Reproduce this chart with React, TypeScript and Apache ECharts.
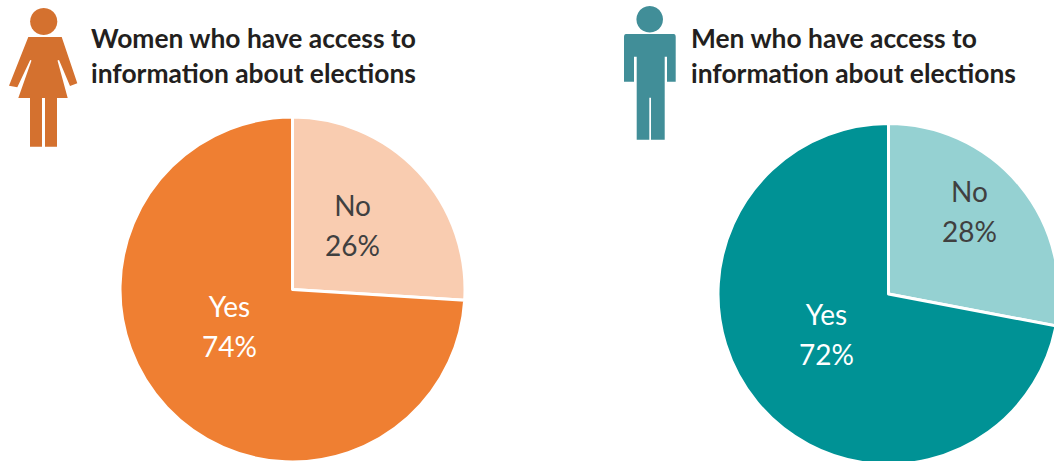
import React, { useEffect, useRef } from "react";
import * as echarts from "echarts";

const categories = ["No", "Yes"];
const womenValues = [26, 74];
const menValues = [28, 72];
const womenTitle = "Women who have access to\ninformation about elections";
const menTitle = "Men who have access to\ninformation about elections";

const womanIcon =
  "M28.3 37 L61.7 37 L77.3 83.3 L70 86 L59 60 L57.5 60.5 L67.7 98 L57 98 L57 146.7 L45 146.7 L45 98 L42 98 L42 146.7 L30 146.7 L30 98 L18.3 98 L31.5 60.5 L30.2 60 L17.3 87.3 L9 85.7 Z";
const manIcon =
  "M626 34 L673.7 34 Q675.7 34 675.7 37 L675.7 81.7 L667 81.7 L667 56.7 L664.7 56.7 L664.7 139.7 L651 139.7 L651 97.7 L649.3 97.7 L649.3 139.7 L636.7 139.7 L636.7 56.7 L634 56.7 L634 81.7 L624 81.7 L624 37 Q624 34 626 34 Z";

echarts.graphic.registerShape("womanIcon", echarts.graphic.extendPath(womanIcon, {}) as any);
echarts.graphic.registerShape("manIcon", echarts.graphic.extendPath(manIcon, {}) as any);

const FONT = "Lato";

function pieSeries(
  values: number[],
  center: number[],
  radius: number,
  colors: string[],
  offsets: number[][]
) {
  return {
    type: "pie",
    center,
    radius,
    startAngle: 90,
    clockwise: true,
    silent: true,
    labelLine: { show: false },
    itemStyle: { borderColor: "#ffffff", borderWidth: 3 },
    data: categories.map((name, i) => ({
      name,
      value: values[i],
      itemStyle: { color: colors[i] },
      label: {
        show: true,
        position: "inside",
        formatter: "{b}\n{c}%",
        fontFamily: FONT,
        fontSize: 28,
        lineHeight: 40,
        color: i === 0 ? "#404040" : "#ffffff",
        offset: offsets[i],
      },
    })),
  };
}

export default function App() {
  const ref = useRef<HTMLDivElement>(null);
  useEffect(() => {
    const chart = echarts.init(ref.current!, null, { renderer: "svg" });
    const titleStyle = {
      fontFamily: FONT,
      fontWeight: "bold",
      fontSize: 26.4,
      lineHeight: 35,
      color: "#231f20",
    };
    chart.setOption({
      animation: false,
      backgroundColor: "#ffffff",
      title: [
        { text: womenTitle, left: 91, top: 20, padding: 0, textStyle: titleStyle },
        { text: menTitle, left: 691, top: 20, padding: 0, textStyle: titleStyle },
      ],
      graphic: [
        { type: "circle", shape: { cx: 43.7, cy: 21.5, r: 13.6 }, style: { fill: "#d4712f" } },
        { type: "womanIcon", style: { fill: "#d4712f" } },
        { type: "circle", shape: { cx: 649.7, cy: 19.3, r: 13.3 }, style: { fill: "#418e98" } },
        { type: "manIcon", style: { fill: "#418e98" } },
      ],
      series: [
        pieSeries(womenValues, [292.5, 289.5], 172.5, ["#f9ccb0", "#ef7f32"], [[-5, -3], [2, -25]]),
        pieSeries(menValues, [888.5, 294], 170.5, ["#95d1d2", "#009295"], [[13, -27], [6, -16]]),
      ],
    });
    return () => chart.dispose();
  }, []);
  return (
    <div
      ref={ref}
      style={{ position: "fixed", left: 0, top: 0, width: 1054, height: 461 }}
    />
  );
}
